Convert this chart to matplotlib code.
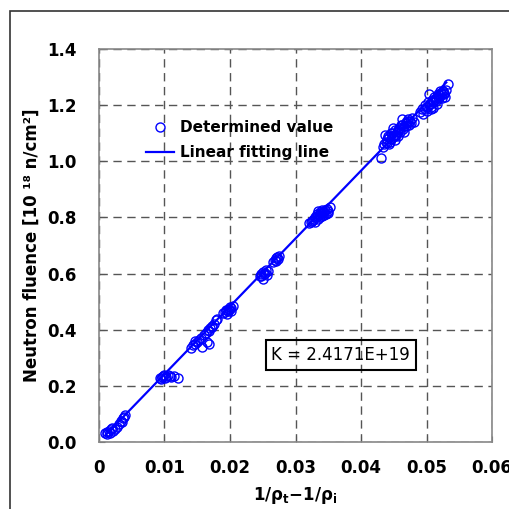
import matplotlib
matplotlib.use("Agg")
import matplotlib.pyplot as plt
import numpy as np

# measured points (x = 1/rho_t - 1/rho_i, y = fluence in 1e18 n/cm2)
det_x = [0.0010, 0.0012, 0.0013, 0.0015, 0.0018, 0.0020, 0.0022, 0.0017, 0.0025, 0.0028,
         0.0030, 0.0033, 0.0035, 0.0038, 0.0040, 0.0037,
         0.0093, 0.0096, 0.0098, 0.0100, 0.0103, 0.0106, 0.0108, 0.0110, 0.0115, 0.0120, 0.0095, 0.0101,
         0.0140, 0.0143, 0.0146, 0.0150, 0.0155, 0.0158, 0.0160, 0.0163, 0.0165, 0.0168, 0.0166, 0.0170,
         0.0172, 0.0175, 0.0178, 0.0180, 0.0168, 0.0173, 0.0147, 0.0153,
         0.0190, 0.0193, 0.0195, 0.0197, 0.0199, 0.0200, 0.0202, 0.0204, 0.0196, 0.0201, 0.0198, 0.0194,
         0.0245, 0.0248, 0.0250, 0.0252, 0.0255, 0.0258, 0.0250, 0.0256, 0.0253, 0.0247,
         0.0265, 0.0268, 0.0270, 0.0272, 0.0275, 0.0270, 0.0273,
         0.0320, 0.0323, 0.0326, 0.0330, 0.0333, 0.0336, 0.0339, 0.0342, 0.0345, 0.0348, 0.0352, 0.0330,
         0.0338, 0.0344, 0.0350, 0.0335, 0.0328, 0.0341, 0.0332, 0.0337, 0.0340, 0.0346, 0.0334, 0.0343,
         0.0325, 0.0349,
         0.0430, 0.0433, 0.0435, 0.0438, 0.0440, 0.0436, 0.0442, 0.0445, 0.0447, 0.0450, 0.0452, 0.0455,
         0.0448, 0.0458, 0.0460, 0.0462, 0.0465, 0.0463, 0.0468, 0.0470, 0.0472, 0.0475, 0.0478, 0.0480,
         0.0442, 0.0452, 0.0457, 0.0466, 0.0439, 0.0444, 0.0449, 0.0454, 0.0459, 0.0464, 0.0469, 0.0473,
         0.0446, 0.0456, 0.0461, 0.0471, 0.0476, 0.0441, 0.0451,
         0.0490, 0.0493, 0.0495, 0.0497, 0.0500, 0.0502, 0.0505, 0.0503, 0.0508, 0.0510, 0.0512, 0.0515,
         0.0518, 0.0520, 0.0522, 0.0525, 0.0527, 0.0530, 0.0532, 0.0510, 0.0516, 0.0506, 0.0523, 0.0528,
         0.0498, 0.0504, 0.0509, 0.0513, 0.0517, 0.0521, 0.0526, 0.0519, 0.0507, 0.0514, 0.0524, 0.0501]
det_y = [0.032, 0.035, 0.030, 0.040, 0.045, 0.050, 0.038, 0.033, 0.048, 0.055,
         0.065, 0.075, 0.070, 0.090, 0.098, 0.085,
         0.228, 0.232, 0.235, 0.238, 0.233, 0.240, 0.236, 0.230, 0.235, 0.228, 0.225, 0.229,
         0.335, 0.345, 0.350, 0.355, 0.370, 0.340, 0.380, 0.390, 0.355, 0.350, 0.400, 0.405,
         0.415, 0.420, 0.435, 0.440, 0.395, 0.410, 0.360, 0.365,
         0.458, 0.462, 0.470, 0.465, 0.475, 0.480, 0.478, 0.485, 0.455, 0.468, 0.472, 0.470,
         0.590, 0.598, 0.605, 0.600, 0.612, 0.610, 0.580, 0.595, 0.603, 0.593,
         0.640, 0.648, 0.655, 0.660, 0.662, 0.645, 0.652,
         0.780, 0.785, 0.790, 0.800, 0.805, 0.810, 0.815, 0.820, 0.825, 0.830, 0.838, 0.785,
         0.800, 0.808, 0.815, 0.822, 0.795, 0.828, 0.812, 0.818, 0.805, 0.812, 0.795, 0.818,
         0.788, 0.822,
         1.010, 1.050, 1.060, 1.070, 1.065, 1.095, 1.085, 1.080, 1.100, 1.095, 1.110, 1.105,
         1.120, 1.120, 1.115, 1.130, 1.125, 1.150, 1.140, 1.135, 1.150, 1.145, 1.155, 1.140,
         1.060, 1.075, 1.090, 1.105, 1.080, 1.070, 1.085, 1.095, 1.105, 1.115, 1.125, 1.130,
         1.100, 1.110, 1.130, 1.145, 1.135, 1.090, 1.090,
         1.175, 1.185, 1.170, 1.200, 1.195, 1.210, 1.205, 1.240, 1.220, 1.215, 1.230, 1.225,
         1.240, 1.235, 1.245, 1.250, 1.240, 1.255, 1.275, 1.190, 1.205, 1.185, 1.225, 1.230,
         1.185, 1.200, 1.210, 1.220, 1.230, 1.250, 1.245, 1.225, 1.195, 1.215, 1.238, 1.180]

K = 2.4171e19
fit_x = [0.001, 0.053]

plt.rcParams['font.family'] = ['DejaVu Sans']
plt.rcParams['mathtext.fontset'] = 'dejavusans'

fig = plt.figure(figsize=(5.10, 5.09), dpi=100)
ax = fig.add_axes([0.194, 0.1316, 0.771, 0.7721])

# outer frame, runs off the right and bottom edge
fig.patches.append(plt.Rectangle((10 / 510, -0.1), 1.2, 1 - 11 / 509 + 0.1,
                                 transform=fig.transFigure, fill=False,
                                 edgecolor='#333333', linewidth=1.2))

ax.plot(det_x, det_y, 'o', mfc='none', mec='#0000ff', ms=6.5, mew=1.0,
        label='Determined value', zorder=3)
ax.plot(fit_x, [K * v / 1e18 for v in fit_x], '-', color='#0000ff', lw=1.6,
        label='Linear fitting line', zorder=4)

ax.set_xlim(0, 0.06)
ax.set_ylim(0, 1.4)
ax.set_xticks(np.arange(0, 0.061, 0.01))
ax.set_xticklabels(['0', '0.01', '0.02', '0.03', '0.04', '0.05', '0.06'])
ax.set_yticks(np.arange(0, 1.41, 0.2))
ax.set_yticklabels(['0.0', '0.2', '0.4', '0.6', '0.8', '1.0', '1.2', '1.4'])
ax.grid(True, linestyle=(0, (6, 4)), color='#555555', linewidth=1.0)
ax.set_axisbelow(True)
ax.tick_params(direction='in', length=4, color='#555555', labelsize=12)
ax.tick_params(axis='y', pad=16)
ax.tick_params(axis='x', pad=12)
for lab in ax.get_xticklabels() + ax.get_yticklabels():
    lab.set_fontweight('bold')
for s in ax.spines.values():
    s.set_color('#888888')
    s.set_linewidth(1.2)

ax.set_ylabel('Neutron fluence [10 \u00b9\u2078 n/cm\u00b2]', fontsize=12, fontweight='bold', labelpad=5)
ax.set_xlabel(r'$\mathbf{1/\rho_t{-}1/\rho_i}$', fontsize=12, labelpad=6)

ax.legend(loc='upper left', bbox_to_anchor=(0.105, 0.835), frameon=False,
          prop={'size': 11, 'weight': 'bold'}, handlelength=1.8, handletextpad=0.4,
          borderaxespad=0, labelspacing=0.65)

ax.text(0.0369, 0.31, 'K = 2.4171E+19', fontsize=12, ha='center', va='center',
        bbox=dict(boxstyle='square,pad=0.35', fc='none', ec='black', lw=1.5), zorder=5)

fig.savefig('out.png', dpi=100)
